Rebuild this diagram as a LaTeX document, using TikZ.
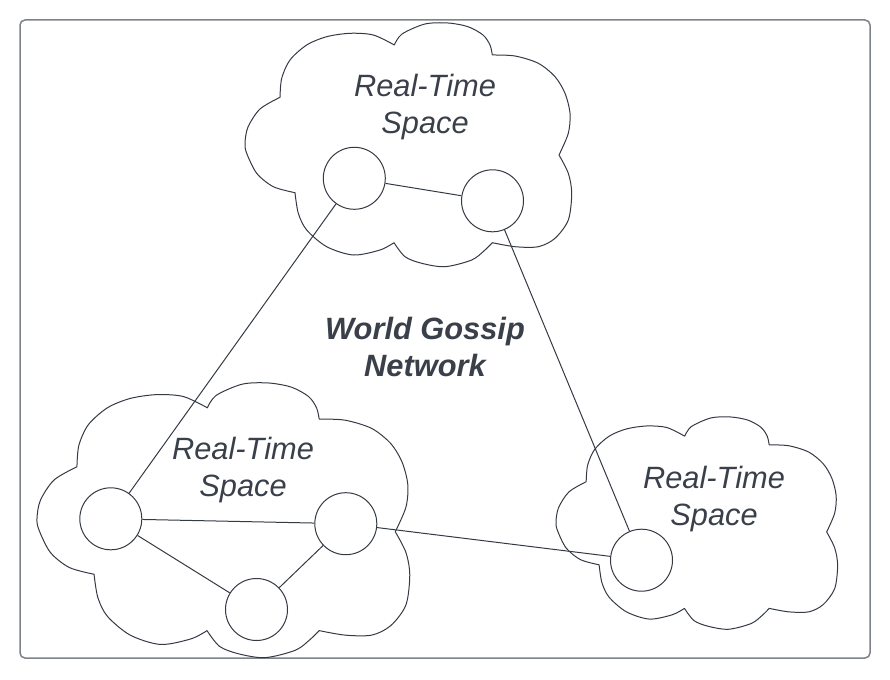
\documentclass[tikz,border=0pt]{standalone}
\usepackage{fontspec}
\setmainfont{Liberation Sans}
\definecolor{ink}{HTML}{343A44}
\definecolor{txt}{HTML}{3A404A}
\definecolor{framegrey}{HTML}{7E8289}
\tikzset{
  cloudline/.style={draw=ink, line width=1pt, line join=round},
  hub/.style={circle, draw=ink, line width=1pt, fill=white, minimum size=62pt, inner sep=0pt},
  link/.style={draw=ink, line width=1pt},
  lbl/.style={font=\fontsize{30.8}{37.5}\selectfont\itshape, text=txt, align=center, inner sep=0pt},
  ttl/.style={font=\fontsize{30.8}{37.5}\selectfont\bfseries\itshape, text=txt, align=center, inner sep=0pt}
}
\newcommand{\drawrtcloud}[1]{%
  \draw[cloudline,#1]
    plot[smooth] coordinates {(35,74.3) (36.7,55.3) (45,37) (61.7,22) (81.7,13.7) (105,10.3) (128.3,12) (149.3,22)}
    -- plot[smooth] coordinates {(149.3,22) (157,11) (180,1) (203,0) (223,3.7) (238,12) (245,22) (247.3,32)}
    -- plot[smooth] coordinates {(247.3,32) (270,33) (293.3,40.3) (310,53.7) (320,70.3) (325,90.3) (323.3,110.3) (314,132)}
    -- plot[smooth] coordinates {(314,132) (323.3,150.3) (326.7,170.3) (323.3,197) (310,215.3) (293.3,223.7) (270,223.7) (247.3,219.7)}
    -- plot[smooth] coordinates {(247.3,219.7) (240,227) (226.7,237) (200,243.7) (176.7,240.3) (160,233.7) (149,219.7)}
    -- plot[smooth] coordinates {(149,219.7) (135,227) (108.3,232) (81.7,223.7) (61.7,207) (53.3,190.3) (50,169.7)}
    -- plot[smooth] coordinates {(50,169.7) (28.3,163.7) (11.7,150.3) (1.7,130.3) (0,120) (3,104) (15,86) (35,74.3)}
    -- cycle;%
}
\begin{document}
\begin{tikzpicture}[x=1pt, y=-1pt]
  \useasboundingbox (0,0) rectangle (890,679);
  \draw[framegrey, line width=1.5pt, rounded corners=5pt] (20,20) rectangle (870,658);

  % clouds
  \drawrtcloud{shift={(245,23)}}
  \drawrtcloud{shift={(37,383)}, xscale=1.141, yscale=1.127}
  \drawrtcloud{shift={(556,417)}, xscale=0.862, yscale=0.871}

  % hubs
  \node[hub] (t1) at (354.3,178.3) {};
  \node[hub] (t2) at (492.5,200.8) {};
  \node[hub] (b1) at (110.8,518.8) {};
  \node[hub] (b2) at (345.8,523.7) {};
  \node[hub] (b3) at (256.5,609.5) {};
  \node[hub] (r1) at (641.5,560.2) {};

  % links
  \draw[link] (t1) -- (t2);
  \draw[link] (t1) -- (b1);
  \draw[link] (t2) -- (r1);
  \draw[link] (b2) -- (r1);
  \draw[link] (b1) -- (b2);
  \draw[link] (b1) -- (b3);
  \draw[link] (b2) -- (b3);

  % labels
  \node[lbl] (lt) at (425,107) {Real-Time\\Space};
  \node[lbl] (lb) at (243,470) {Real-Time\\Space};
  \node[lbl] (lr) at (714,499) {Real-Time\\Space};
  \node[ttl] (title) at (425,347) {World Gossip\\Network};
\end{tikzpicture}
\end{document}
